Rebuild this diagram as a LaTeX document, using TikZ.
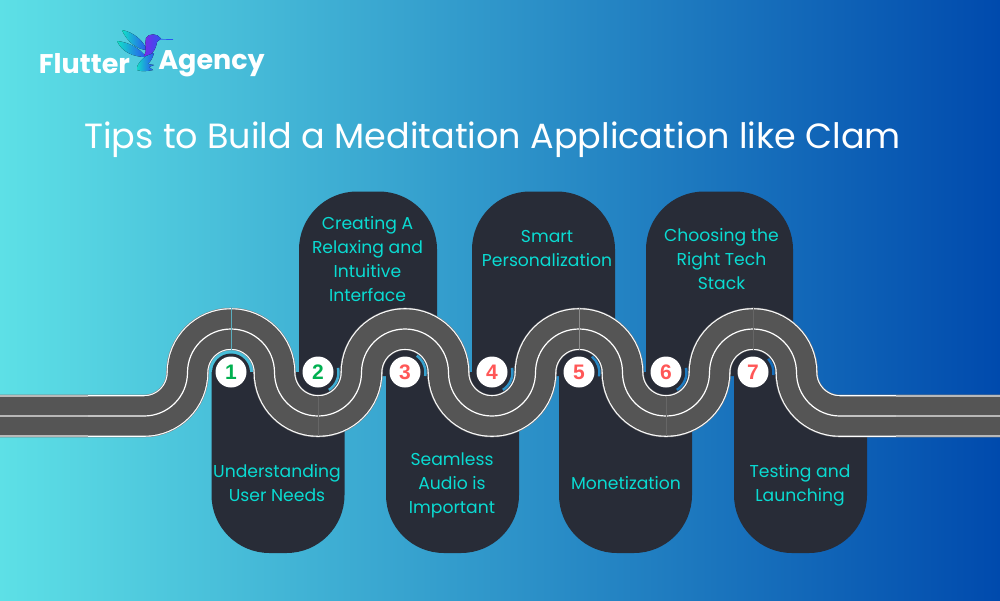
\documentclass[tikz,border=0pt]{standalone}
\usepackage{fontspec}
\setmainfont{Poppins}
\newfontfamily\numfont{Liberation Sans}
\definecolor{bgL}{HTML}{5DE0E6}
\definecolor{bgR}{HTML}{004AAD}
\definecolor{panelc}{HTML}{282C37}
\definecolor{roadc}{HTML}{555555}
\definecolor{tealc}{HTML}{0ADBD2}
\definecolor{greenc}{HTML}{00B050}
\definecolor{redc}{HTML}{FF5757}
\definecolor{birdA}{HTML}{12E0C8}
\definecolor{birdB}{HTML}{2A55F0}
\definecolor{birdC}{HTML}{7A2BE8}
\tikzset{
  panel/.style={fill=panelc,rounded corners=58pt},
  tip/.style={text=tealc,font=\fontsize{17.2}{24}\selectfont,align=center},
  num/.style={circle,fill=white,minimum size=31pt,inner sep=0pt,font=\numfont\bfseries\fontsize{21}{21}\selectfont},
  logo/.style={text=white,font=\fontsize{27}{27}\selectfont\bfseries},
  ring/.style={line width=2.5pt},
  seam/.style={line width=0.6pt,draw=#1},
  roadend/.style={line width=1.5pt,draw=black!28}
}
% one road, drawn again for each layer
\newcommand{\roadline}[1]{
\draw[#1] (-5,416) -- (144,416) arc (90:0:43.5)
  arc (180:360:43.5) arc (180:0:43.5) arc (180:360:43.5) arc (180:0:43.5)
  arc (180:360:43.5) arc (180:0:43.5) arc (180:360:43.5)
  arc (180:90:43.5) -- (1005,416);
}
\newcommand{\ringarc}[4]{
\draw[ring,bgR!#4!bgL] (#1,372.5) ++(#2:20.5) arc (#2:#3:20.5);
}
\begin{document}
\begin{tikzpicture}[x=1pt,y=-1pt]
\useasboundingbox (0,0) rectangle (1000,600);
\fill[left color=bgL,right color=bgR] (0,0) rectangle (1000,600);

% logo
\node[logo] (flutter) at (84.5,63.5) {Flutter};
\node[logo] (agency) at (211.5,63.5) {Agency};
\fill[left color=birdA,right color=birdB] (122,30) .. controls (133,32) and (143,40) .. (147,50) .. controls (138,50) and (127,42) .. (122,30);
\fill[left color=birdA,right color=birdB] (117,41) .. controls (128,42) and (140,48) .. (146,57) .. controls (133,57) and (122,52) .. (117,41);
\fill[left color=birdC,right color=birdB] (161,38.5) .. controls (157,33) and (149,33) .. (146,38) .. controls (144,44) and (148,50) .. (144,56) .. controls (150,58) and (156,50) .. (157,42) -- cycle;
\fill[left color=birdA,right color=birdB] (146,56) .. controls (141,60) and (136,65) .. (137,70) .. controls (142,72) and (148,71) .. (153,70) -- (149,67) -- (154,65) -- (148,64) .. controls (151,61) and (153,57) .. (154,53) -- cycle;
\draw[line width=0.7pt,birdB] (160,39.3) -- (173,39.5);

\node (title) at (492.5,140) {\color{white}\fontsize{35}{35}\selectfont Tips to Build a Meditation Application like Clam};

% panels above the road
\fill[panel] (299,376) [sharp corners] -- (299,300) [rounded corners=58pt] -- (299,191.5) -- (437,191.5) [sharp corners] -- (437,300) -- (437,376) -- cycle;
\fill[panel] (472,376) [sharp corners] -- (472,300) [rounded corners=58pt] -- (472,191.5) -- (615,191.5) [sharp corners] -- (615,300) -- (615,376) -- cycle;
\fill[panel] (646,376) [sharp corners] -- (646,300) [rounded corners=58pt] -- (646,191.5) -- (793,191.5) [sharp corners] -- (793,300) -- (793,376) -- cycle;
% panels below the road
\fill[panel] (211.5,372) [sharp corners] -- (211.5,450) [rounded corners=58pt] -- (211.5,553) -- (344.5,553) [sharp corners] -- (344.5,450) -- (344.5,372) -- cycle;
\fill[panel] (386,372) [sharp corners] -- (386,450) [rounded corners=58pt] -- (386,553) -- (519,553) [sharp corners] -- (519,450) -- (519,372) -- cycle;
\fill[panel] (559,372) [sharp corners] -- (559,450) [rounded corners=58pt] -- (559,553) -- (692,553) [sharp corners] -- (692,450) -- (692,372) -- cycle;
\fill[panel] (734,372) [sharp corners] -- (734,450) [rounded corners=58pt] -- (734,553) -- (867,553) [sharp corners] -- (867,450) -- (867,425) -- (820,420) -- (780,385) -- (775,372) -- cycle;
\fill[panelc] (231,372.5) circle (19);

% road
\roadline{line width=42.6pt,draw=gray}
\roadline{line width=41.6pt,draw=white}
\roadline{line width=39.4pt,draw=roadc}
\roadline{line width=1.2pt,draw=white}
\draw[roadend] (0,396) -- (88,396);
\draw[roadend] (0,416) -- (88,416);
\draw[roadend] (0,436) -- (88,436);
\draw[roadend] (896,396) -- (1000,396);
\draw[roadend] (896,416) -- (1000,416);
\draw[roadend] (896,436) -- (1000,436);

\draw[seam=bgR!20!bgL!70!gray] (231,307.5) -- (231,349.5);
\draw[seam=black!60] (318,395.5) -- (318,436);
\draw[seam=black!45] (579,307.5) -- (579,349.5);
\draw[seam=black!60] (666,395.5) -- (666,436);
\draw[seam=black!60] (753,307.5) -- (753,349.5);

% gaps next to the numbers
\ringarc{318}{-13}{58}{34}
\ringarc{405}{-55}{10}{42}
\ringarc{492}{-13}{58}{51}
\ringarc{579}{-51}{11}{59}
\ringarc{666}{-13}{58}{68}
\ringarc{753}{-42}{7}{77}

\node[num,text=greenc] (n1) at (231,372) {1};
\node[num,text=greenc] (n2) at (318,372) {2};
\node[num,text=redc] (n3) at (405,372) {3};
\node[num,text=redc] (n4) at (492,372) {4};
\node[num,text=redc] (n5) at (579,372) {5};
\node[num,text=redc] (n6) at (666,372) {6};
\node[num,text=redc] (n7) at (753,372) {7};

\node[tip] (tip1) at (277,483) {Understanding\\User Needs};
\node[tip] (tip2) at (367.5,259) {Creating A\\Relaxing and\\Intuitive\\Interface};
\node[tip] (tip3) at (452,485) {Seamless\\Audio is\\Important};
\node[tip] (tip4) at (547,248) {Smart\\Personalization};
\node[tip] (tip5) at (626,483) {Monetization};
\node[tip] (tip6) at (721.5,259) {Choosing the\\Right Tech\\Stack};
\node[tip] (tip7) at (800,485) {Testing and\\Launching};
\end{tikzpicture}
\end{document}
